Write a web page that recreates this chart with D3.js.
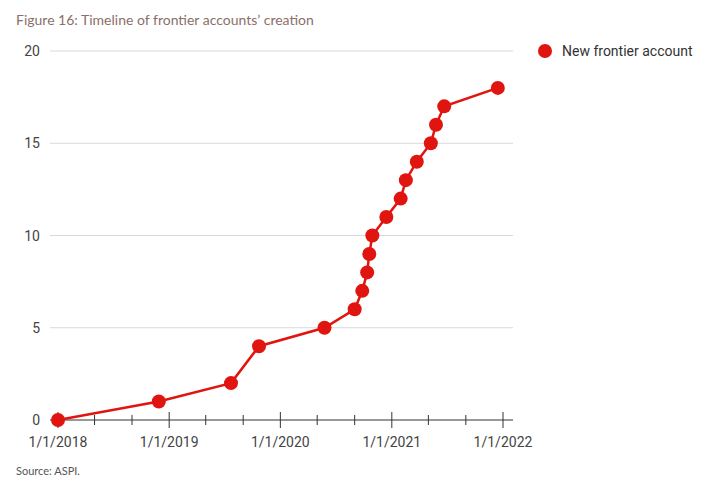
<!DOCTYPE html>
<html><head><meta charset="utf-8">
<script src="https://cdn.jsdelivr.net/npm/d3@7"></script>
<style>body{margin:0;background:#fff}</style>
</head><body>
<svg id="chart" width="726" height="499"></svg>
<script>
var dates = ['2018-01-01','2018-11-28','2019-07-23','2019-10-23','2020-05-25','2020-09-01','2020-09-26','2020-10-12','2020-10-19','2020-10-29','2020-12-14','2021-01-30','2021-02-16','2021-03-24','2021-05-09','2021-05-26','2021-06-22','2021-12-15'];
var counts = [0,1,2,4,5,6,7,8,9,10,11,12,13,14,15,16,17,18];
var yTicks = [0,5,10,15,20];
var seriesName = 'New frontier account';

var parse = d3.timeParse('%Y-%m-%d');
var data = dates.map(function (d, i) { return {date: parse(d), value: counts[i]}; });
var svg = d3.select('#chart');
var font = 'Roboto, sans-serif';

var x = d3.scaleTime().domain([new Date(2018, 0, 1), new Date(2022, 0, 1)]).range([58, 503]);
var y = d3.scaleLinear().domain([0, 20]).range([420, 51]);

svg.append('text').attr('x', 16).attr('y', 25).attr('font-family', 'Lato, sans-serif')
    .attr('font-size', 14).attr('fill', '#8a6f6a').text('Figure 16: Timeline of frontier accounts\u2019 creation');

svg.selectAll('.grid').data(yTicks.slice(1)).enter().append('line')
    .attr('x1', 50).attr('x2', 513).attr('y1', y).attr('y2', y)
    .attr('stroke', '#d9d9d9');
svg.selectAll('.ylab').data(yTicks).enter().append('text')
    .attr('x', 40).attr('y', function (d) { return y(d) + 5; }).attr('text-anchor', 'end')
    .attr('font-family', font).attr('font-size', 14).attr('fill', '#444').text(String);

svg.append('line').attr('x1', 50).attr('x2', 513).attr('y1', 420).attr('y2', 420).attr('stroke', '#333');
var minor = d3.timeMonth.every(4).range(new Date(2018, 0, 1), new Date(2022, 0, 2));
svg.selectAll('.tick').data(minor).enter().append('line')
    .attr('x1', x).attr('x2', x)
    .attr('y1', function (d) { return d.getMonth() === 0 ? 412 : 415; })
    .attr('y2', function (d) { return d.getMonth() === 0 ? 428 : 425; })
    .attr('stroke', '#333');
svg.selectAll('.xlab').data(d3.timeYear.range(new Date(2018, 0, 1), new Date(2022, 0, 2))).enter().append('text')
    .attr('x', x).attr('y', 447).attr('text-anchor', 'middle')
    .attr('font-family', font).attr('font-size', 14).attr('fill', '#444')
    .text(d3.timeFormat('1/1/%Y'));

svg.append('path').datum(data)
    .attr('d', d3.line().x(function (d) { return x(d.date); }).y(function (d) { return y(d.value); }))
    .attr('fill', 'none').attr('stroke', '#e0150f').attr('stroke-width', 2.5);
svg.selectAll('.pt').data(data).enter().append('circle')
    .attr('cx', function (d) { return x(d.date); }).attr('cy', function (d) { return y(d.value); })
    .attr('r', 7).attr('fill', '#e0150f');

svg.append('circle').attr('cx', 545).attr('cy', 51).attr('r', 7).attr('fill', '#e0150f');
svg.append('text').attr('x', 562).attr('y', 56).attr('font-family', font).attr('font-size', 14)
    .attr('fill', '#333').text(seriesName);

svg.append('text').attr('x', 16).attr('y', 475).attr('font-family', 'Lato, sans-serif')
    .attr('font-size', 11).attr('fill', '#555').text('Source: ASPI.');
</script>
</body></html>
